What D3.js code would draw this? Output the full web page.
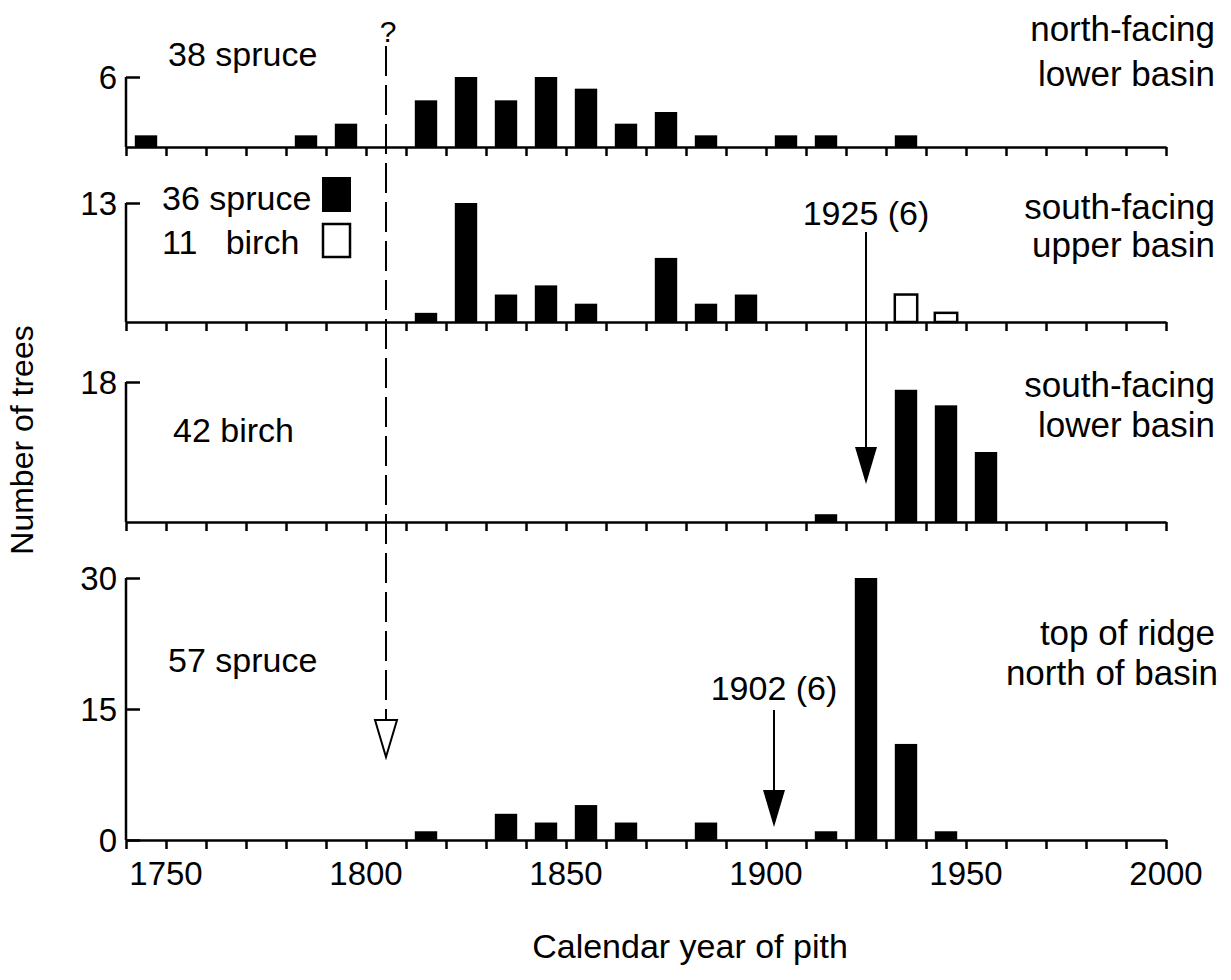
<!DOCTYPE html>
<html>
<head>
<meta charset="utf-8">
<script src="https://cdn.jsdelivr.net/npm/d3@7"></script>
<style>
body { margin: 0; background: #fff; }
text { font-family: 'Liberation Sans', Arial, sans-serif; fill: #000; }
</style>
</head>
<body>
<script>
// bins are 10 years wide, years are bin starts
var northLowerYears = [1740, 1780, 1790, 1810, 1820, 1830, 1840, 1850, 1860, 1870, 1880, 1900, 1910, 1930];
var northLowerSpruce = [1, 1, 2, 4, 6, 4, 6, 5, 2, 3, 1, 1, 1, 1];

var southUpperYears = [1810, 1820, 1830, 1840, 1850, 1870, 1880, 1890];
var southUpperSpruce = [1, 13, 3, 4, 2, 7, 2, 3];
var southUpperBirchYears = [1930, 1940];
var southUpperBirch = [3, 1];

var southLowerYears = [1910, 1930, 1940, 1950];
var southLowerBirch = [1, 17, 15, 9];

var ridgeYears = [1810, 1830, 1840, 1850, 1860, 1880, 1910, 1920, 1930, 1940];
var ridgeSpruce = [1, 3, 2, 4, 2, 2, 1, 30, 11, 1];

var xTickLabels = [1750, 1800, 1850, 1900, 1950, 2000];

var svg = d3.select('body').append('svg')
	.attr('width', 1231)
	.attr('height', 980);

var x = d3.scaleLinear().domain([1740, 2000]).range([126, 1166]);
var binW = x(1750) - x(1740);

// one panel = y scale + axes
function panel(maxVal, yTop, yBase, ticks) {
	var y = d3.scaleLinear().domain([0, maxVal]).range([yBase, yTop]);

	var yAxis = d3.axisRight(y).tickValues(ticks).tickSize(14).tickFormat('');
	var g = svg.append('g').attr('transform', 'translate(' + x(1740) + ',0)').call(yAxis);
	g.select('.domain').attr('d', 'M0,' + y(maxVal) + 'V' + yBase).attr('stroke-width', 2.5);
	g.selectAll('.tick line').attr('stroke-width', 2.5);

	ticks.forEach(function(t) {
		svg.append('text')
			.attr('x', 117)
			.attr('y', y(t) + 12)
			.attr('text-anchor', 'end')
			.attr('font-size', 33)
			.text(t);
	});

	var xAxis = d3.axisBottom(x).ticks(26).tickSize(9).tickFormat('').tickSizeOuter(0);
	var gx = svg.append('g').attr('transform', 'translate(0,' + yBase + ')').call(xAxis);
	gx.select('.domain').attr('stroke-width', 2.5);
	gx.selectAll('.tick line').attr('stroke-width', 2.5);
	return y;
}

function bars(y, years, counts, fill) {
	svg.append('g').selectAll('rect')
		.data(years)
		.enter().append('rect')
		.attr('x', function(d) { return x(d) + binW * 0.22; })
		.attr('width', binW * 0.56)
		.attr('y', function(d, i) { return y(counts[i]); })
		.attr('height', function(d, i) { return y(0) - y(counts[i]); })
		.attr('fill', fill)
		.attr('stroke', '#000')
		.attr('stroke-width', fill == '#fff' ? 2.5 : 0);
}

function label(tx, ty, str, anchor, size) {
	svg.append('text')
		.attr('x', tx)
		.attr('y', ty)
		.attr('text-anchor', anchor || 'start')
		.attr('font-size', size || 34)
		.style('white-space', 'pre')
		.text(str);
}

//PANEL 1
var y1 = panel(6, 77, 147, [6]);
bars(y1, northLowerYears, northLowerSpruce, '#000');
label(168, 66, '38 spruce');
label(1215, 41, 'north-facing', 'end', 35);
label(1215, 86, 'lower basin', 'end', 35);

//PANEL 2
var y2 = panel(13, 203, 322, [13]);
bars(y2, southUpperYears, southUpperSpruce, '#000');
bars(y2, southUpperBirchYears, southUpperBirch, '#fff');
label(162, 210, '36 spruce');
label(162, 254, '11   birch');
svg.append('rect').attr('x', 322).attr('y', 177).attr('width', 29).attr('height', 35).attr('fill', '#000');
svg.append('rect').attr('x', 323).attr('y', 224).attr('width', 27).attr('height', 33)
	.attr('fill', '#fff').attr('stroke', '#000').attr('stroke-width', 2.5);
label(1215, 219, 'south-facing', 'end', 35);
label(1215, 257, 'upper basin', 'end', 35);

//PANEL 3
var y3 = panel(18, 382, 522, [18]);
bars(y3, southLowerYears, southLowerBirch, '#000');
label(173, 442, '42 birch');
label(1215, 397, 'south-facing', 'end', 35);
label(1215, 437, 'lower basin', 'end', 35);

//PANEL 4
var y4 = panel(30, 578, 840, [0, 15, 30]);
bars(y4, ridgeYears, ridgeSpruce, '#000');
label(168, 672, '57 spruce');
label(1215, 645, 'top of ridge', 'end', 35);
label(1218, 685, 'north of basin', 'end', 35);

// x tick labels under bottom panel
xTickLabels.forEach(function(t) {
	label(x(t), 885, t, 'middle', 33);
});
label(690, 958, 'Calendar year of pith', 'middle', 34);

svg.append('text')
	.attr('transform', 'translate(33,440) rotate(-90)')
	.attr('text-anchor', 'middle')
	.attr('font-size', 32)
	.text('Number of trees');

// dashed line with open arrow at 1805
label(x(1805) + 2, 42, '?', 'middle', 30);
svg.append('line')
	.attr('x1', x(1805)).attr('x2', x(1805))
	.attr('y1', 46).attr('y2', 720)
	.attr('stroke', '#000').attr('stroke-width', 2)
	.attr('stroke-dasharray', '30,9');
svg.append('path')
	.attr('d', 'M' + (x(1805) - 11) + ',720 L' + (x(1805) + 11) + ',720 L' + x(1805) + ',757 Z')
	.attr('fill', '#fff').attr('stroke', '#000').attr('stroke-width', 2);

// 1925 arrow
label(x(1925), 225, '1925 (6)', 'middle');
svg.append('line')
	.attr('x1', x(1925)).attr('x2', x(1925))
	.attr('y1', 232).attr('y2', 450)
	.attr('stroke', '#000').attr('stroke-width', 2);
svg.append('path')
	.attr('d', 'M' + (x(1925) - 11) + ',447 L' + (x(1925) + 11) + ',447 L' + x(1925) + ',484 Z')
	.attr('fill', '#000');

// 1902 arrow
label(x(1902), 700, '1902 (6)', 'middle');
svg.append('line')
	.attr('x1', x(1902)).attr('x2', x(1902))
	.attr('y1', 710).attr('y2', 792)
	.attr('stroke', '#000').attr('stroke-width', 2);
svg.append('path')
	.attr('d', 'M' + (x(1902) - 11) + ',790 L' + (x(1902) + 11) + ',790 L' + x(1902) + ',827 Z')
	.attr('fill', '#000');
</script>
</body>
</html>
